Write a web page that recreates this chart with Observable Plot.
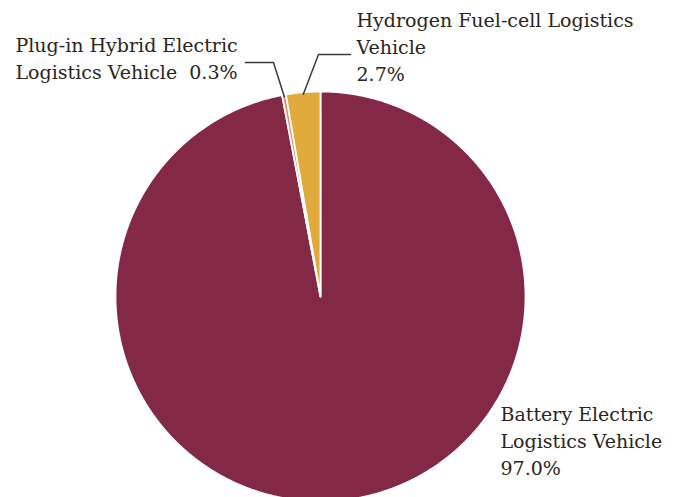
<!DOCTYPE html>
<html>
<head>
<meta charset="utf-8">
<script src="https://cdn.jsdelivr.net/npm/d3@7"></script>
<script src="https://cdn.jsdelivr.net/npm/@observablehq/plot@0.6"></script>
<style>
  html, body { margin: 0; padding: 0; background: #ffffff; }
  #chart { width: 683px; height: 497px; overflow: hidden; }
</style>
</head>
<body>
<div id="chart"></div>
<script>
// ---- data ----
const categories = [
  "Battery Electric Logistics Vehicle",
  "Plug-in Hybrid Electric Logistics Vehicle",
  "Hydrogen Fuel-cell Logistics Vehicle"
];
const shares = [97.0, 0.3, 2.7];
const shareLabels = ["97.0%", "0.3%", "2.7%"];
const labelTexts = [
  "Battery Electric\nLogistics Vehicle\n97.0%",
  "Plug-in Hybrid Electric\nLogistics Vehicle  0.3%",
  "Hydrogen Fuel-cell Logistics\nVehicle\n2.7%"
];
const colors = ["#832845", "#EC8A62", "#E0AA3C"];

// ---- layout ----
const W = 683, H = 497;
const CX = 320, CY = 296, R = 205;
const FS = 19, LH = 27 / 19;
// label anchor (x of text start, cap-top of first line), leader elbow/end
const labelLayout = [
  {x: 500, top: 401, leader: null},
  {x: 15, top: 32, leader: {elbow: [273, 62], end: [245, 62]}},
  {x: 356, top: 7, leader: {elbow: [318, 54], end: [350, 54]}}
];

const arcs = d3.pie().sort(null).value(d => d)(shares);

function pt(angle, r) {
  return [CX + r * Math.sin(angle), CY - r * Math.cos(angle)];
}

// slice polygons
const slicePts = [];
arcs.forEach((a, i) => {
  slicePts.push({cat: categories[i], x: CX, y: CY});
  const n = Math.max(2, Math.ceil((a.endAngle - a.startAngle) / (Math.PI / 720)));
  for (let k = 0; k <= n; k++) {
    const ang = a.startAngle + (a.endAngle - a.startAngle) * k / n;
    const [x, y] = pt(ang, R);
    slicePts.push({cat: categories[i], x, y});
  }
});

// leader lines
const leaderPts = [];
arcs.forEach((a, i) => {
  const L = labelLayout[i].leader;
  if (!L) return;
  const mid = (a.startAngle + a.endAngle) / 2;
  const [sx, sy] = pt(mid, R - 2);
  leaderPts.push({cat: categories[i], x: sx, y: sy});
  leaderPts.push({cat: categories[i], x: L.elbow[0], y: L.elbow[1]});
  leaderPts.push({cat: categories[i], x: L.end[0], y: L.end[1]});
});

const labels = categories.map((c, i) => ({
  cat: c,
  text: labelTexts[i],
  x: labelLayout[i].x,
  y: labelLayout[i].top
}));

const colorScale = {domain: categories, range: colors};

const chart = Plot.plot({
  width: W,
  height: H,
  margin: 0,
  x: {type: "identity", axis: null},
  y: {type: "identity", axis: null},
  color: colorScale,
  style: {background: "#ffffff", fontFamily: "'DejaVu Serif', serif"},
  marks: [
    Plot.line(slicePts, {
      x: "x", y: "y", z: "cat", fill: "cat",
      stroke: "#ffffff", strokeWidth: 1.8, curve: "linear-closed"
    }),
    Plot.line(leaderPts, {
      x: "x", y: "y", z: "cat", stroke: "#3a3a3a", strokeWidth: 1.5
    }),
    Plot.text(labels, {
      x: "x", y: "y", text: "text",
      textAnchor: "start", lineAnchor: "top", lineHeight: LH,
      fontSize: FS, fill: "#2b2421", fontFamily: "'DejaVu Serif', serif"
    })
  ]
});
document.getElementById("chart").appendChild(chart);
</script>
</body>
</html>
